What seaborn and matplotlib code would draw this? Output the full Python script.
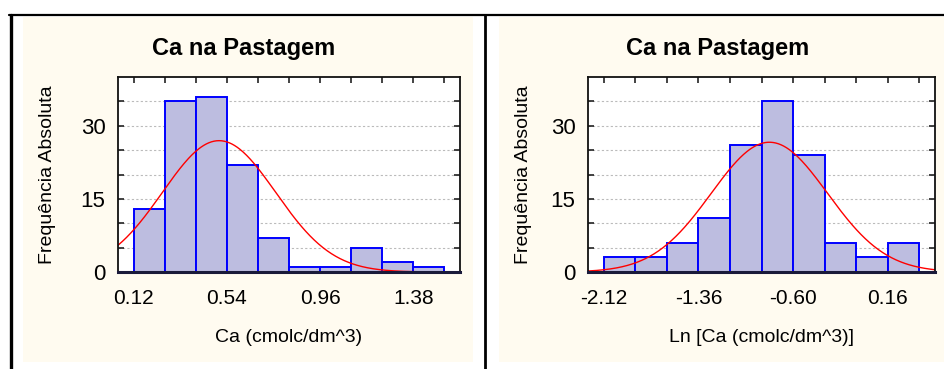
import numpy as np
import pandas as pd
import matplotlib
matplotlib.use("Agg")
import matplotlib.pyplot as plt
from matplotlib.patches import Rectangle
from matplotlib.lines import Line2D
import seaborn as sns

# Class boundaries and absolute frequencies
ca_bin_edges = [0.12, 0.26, 0.40, 0.54, 0.68, 0.82, 0.96, 1.10, 1.24, 1.38, 1.52]
ca_counts = [13, 35, 36, 22, 7, 1, 1, 5, 2, 1]
ca_tick_labels = ["0.12", "0.54", "0.96", "1.38"]
ca_fit_mean, ca_fit_sd = 0.505, 0.255

ln_bin_edges = [-2.12, -1.8667, -1.6133, -1.36, -1.1067, -0.8533,
                -0.60, -0.3467, -0.0933, 0.16, 0.4133]
ln_counts = [3, 3, 6, 11, 26, 35, 24, 6, 3, 6]
ln_tick_labels = ["-2.12", "-1.36", "-0.60", "0.16"]
ln_fit_mean, ln_fit_sd = -0.79, 0.467

title_text = "Ca na Pastagem"
ylabel_text = "Frequência Absoluta"
ca_xlabel = "Ca (cmolc/dm^3)"
ln_xlabel = "Ln [Ca (cmolc/dm^3)]"

sns.set_style("white")
plt.rcParams["font.family"] = ["Liberation Sans", "DejaVu Sans"]
plt.rcParams["text.color"] = "black"
plt.rcParams["xtick.labelcolor"] = "black"
plt.rcParams["ytick.labelcolor"] = "black"

W, H = 944, 369
fig = plt.figure(figsize=(W / 100, H / 100), dpi=100)
fig.patch.set_facecolor("white")

BEIGE = "#FFFBF0"
BAR_FILL = "#BDBDE0"
BAR_EDGE = "#0000FF"


def fx(px):
    return px / W


def fy(py):
    return 1 - py / H


# Panel backgrounds and frame lines
fig.add_artist(Rectangle((fx(23), fy(362)), fx(450), 345 / H,
                         facecolor=BEIGE, edgecolor="none", zorder=0))
fig.add_artist(Rectangle((fx(499), fy(362)), fx(445), 345 / H,
                         facecolor=BEIGE, edgecolor="none", zorder=0))
fig.add_artist(Line2D([fx(9), 1], [fy(15), fy(15)], color="black", lw=1.6))
fig.add_artist(Line2D([fx(10.5), fx(10.5)], [fy(15), 0], color="black", lw=2.4))
fig.add_artist(Line2D([fx(485), fx(485)], [fy(15), 0], color="black", lw=2.0))


def draw_panel(left_px, right_px, edges, counts, labels, mu, sd, xlabel,
               title_cx, ylabel_x):
    top_px, bottom_px = 77, 272
    ax = fig.add_axes([fx(left_px), fy(bottom_px), fx(right_px - left_px),
                       (bottom_px - top_px) / H])
    ax.set_facecolor("white")
    edge_arr = np.array(edges)
    bw = float(np.mean(np.diff(edge_arr)))
    mids = (edge_arr[:-1] + edge_arr[1:]) / 2
    df = pd.DataFrame({"x": mids, "n": counts})
    sns.histplot(data=df, x="x", weights="n", bins=list(edges), ax=ax,
                 color=BAR_FILL, edgecolor=BAR_EDGE, linewidth=1.4,
                 alpha=1.0, zorder=2)
    xlim = (edges[0] - 0.5 * bw, edges[-1] + 0.5 * bw)
    xs = np.linspace(xlim[0], xlim[1], 400)
    n_total = sum(counts)
    ys = n_total * bw * np.exp(-0.5 * ((xs - mu) / sd) ** 2) / (sd * np.sqrt(2 * np.pi))
    sns.lineplot(x=xs, y=ys, ax=ax, color="red", lw=1.0, zorder=3)
    ax.set_xlim(*xlim)
    ax.set_ylim(0, 40)

    # x ticks at every class boundary, labels every third boundary
    tick_text = []
    for i in range(len(edges)):
        tick_text.append(labels[i // 3] if i % 3 == 0 and i // 3 < len(labels) else "")
    ax.set_xticks(edges)
    ax.set_xticklabels(tick_text)
    ax.tick_params(axis="x", direction="in", top=True, bottom=False,
                   labelbottom=True, length=4, width=1.2, color="#222222",
                   labelsize=15, pad=12, labelcolor="black")

    yt = np.arange(0, 40, 5)
    ax.set_yticks(yt)
    ax.set_yticklabels([str(v) if v % 15 == 0 else "" for v in yt])
    ax.tick_params(axis="y", direction="in", left=True, right=True,
                   length=4.5, width=1.2, color="#222222", labelsize=16,
                   pad=9, labelcolor="black")
    ax.yaxis.grid(True, color="#BBBBBB", linestyle=(0, (2, 2)), lw=0.8, zorder=0)
    ax.set_axisbelow(True)

    for s in ax.spines.values():
        s.set_color("#111111")
        s.set_linewidth(1.3)
        s.set_zorder(5)
    ax.spines["bottom"].set_linewidth(2.2)
    ax.spines["bottom"].set_color("#1a1a3a")

    ax.set_xlabel("")
    ax.set_ylabel("")
    fig.text(fx(title_cx), fy(48), title_text, ha="center", va="center",
             fontsize=17, fontweight="bold", color="black")
    fig.text(fx((left_px + right_px) / 2), fy(338), xlabel, ha="center",
             va="center", fontsize=14, color="black")
    fig.text(fx(ylabel_x), fy(175), ylabel_text, ha="center", va="center",
             rotation=90, fontsize=14, color="black")
    return ax


draw_panel(118, 460, ca_bin_edges, ca_counts, ca_tick_labels,
           ca_fit_mean, ca_fit_sd, ca_xlabel, 244, 48)
draw_panel(588, 935, ln_bin_edges, ln_counts, ln_tick_labels,
           ln_fit_mean, ln_fit_sd, ln_xlabel, 718, 524)

fig.savefig("out.png", dpi=100, facecolor=fig.get_facecolor())
